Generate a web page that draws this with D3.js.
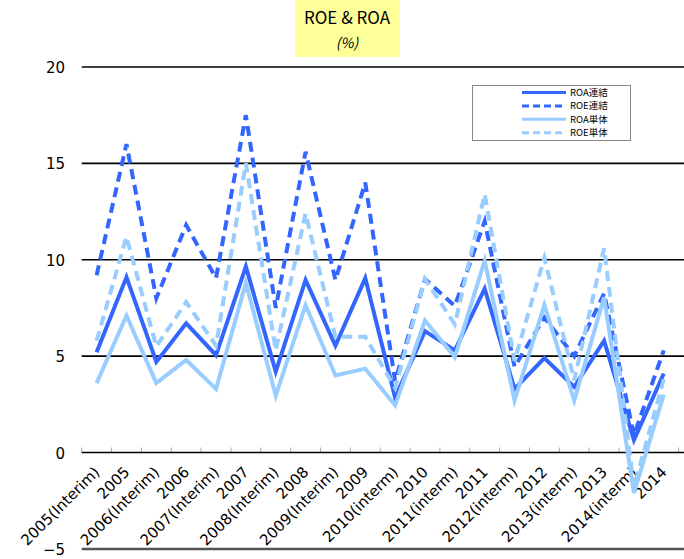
<!DOCTYPE html>
<html>
<head>
<meta charset="utf-8">
<script src="https://cdnjs.cloudflare.com/ajax/libs/d3/7.8.5/d3.min.js"></script>
<style>
  body { margin: 0; background: #fff; }
  text { font-family: "Noto Sans CJK JP", "Noto Sans", sans-serif; }
</style>
</head>
<body>
<script>
// ROE & ROA chart

var categories = ["2005(Interim)", "2005", "2006(Interim)", "2006", "2007(Interim)", "2007",
  "2008(Interim)", "2008", "2009(Interim)", "2009", "2010(interm)", "2010",
  "2011(interm)", "2011", "2012(interm)", "2012", "2013(interm)", "2013",
  "2014(interm)", "2014"];

var roaConsol = [5.2, 9.1, 4.7, 6.7, 5.05, 9.65, 4.2, 8.95, 5.55, 9.05, 2.85, 6.3,
  5.3, 8.5, 3.3, 4.9, 3.4, 5.8, 0.65, 4.1];
var roeConsol = [9.2, 16.0, 8.0, 11.8, 9.05, 17.5, 7.5, 15.6, 8.95, 14.0, 3.7, 9.0,
  7.6, 12.0, 4.45, 7.0, 5.0, 8.25, 0.9, 5.3];
var roaSingle = [3.6, 7.1, 3.6, 4.8, 3.3, 8.8, 2.95, 7.65, 4.0, 4.35, 2.45, 6.85,
  4.95, 9.95, 2.7, 7.65, 2.7, 8.05, -2.1, 3.0];
var roeSingle = [5.8, 11.2, 5.5, 7.8, 5.55, 15.0, 5.3, 12.4, 6.0, 6.0, 3.35, 9.0,
  6.65, 13.4, 4.75, 10.1, 3.75, 10.6, -1.8, 3.8];

var seriesNames = ["ROA連結", "ROE連結", "ROA単体", "ROE単体"];
var seriesValues = [roaConsol, roeConsol, roaSingle, roeSingle];
var seriesColors = ["#3366ff", "#3366ff", "#99ccff", "#99ccff"];
var seriesDash = [null, "10,6", null, "10,6"];

var yTicks = [-5, 0, 5, 10, 15, 20];

var width = 684, height = 559;
var svg = d3.select("body").append("svg")
  .attr("width", width)
  .attr("height", height);

var x = d3.scaleBand().domain(categories).range([81.7, 678.7]).padding(0);
var y = d3.scaleLinear().domain([-5, 20]).range([548.9, 67]);

// title box
svg.append("rect")
  .attr("x", 295).attr("y", 0)
  .attr("width", 105).attr("height", 57)
  .style("fill", "#ffff99");
svg.append("text")
  .attr("x", 347).attr("y", 24)
  .attr("text-anchor", "middle")
  .style("font-size", "17px")
  .text("ROE & ROA");
svg.append("text")
  .attr("x", 347).attr("y", 48)
  .attr("text-anchor", "middle")
  .style("font-size", "14px")
  .style("font-style", "italic")
  .text("(%)");

// grid lines
svg.selectAll("line.grid")
  .data(yTicks.filter(function(t) { return t > 0; }))
  .enter().append("line")
  .attr("class", "grid")
  .attr("x1", 81.7).attr("x2", width)
  .attr("y1", function(d) { return y(d); })
  .attr("y2", function(d) { return y(d); })
  .style("stroke", "#000")
  .style("stroke-width", 1.6);

// -5 line
svg.append("line")
  .attr("x1", 81.7).attr("x2", width)
  .attr("y1", y(-5)).attr("y2", y(-5))
  .style("stroke", "#555")
  .style("stroke-width", 2.5);

// y labels
svg.selectAll("text.ylab")
  .data(yTicks)
  .enter().append("text")
  .attr("class", "ylab")
  .attr("x", 65)
  .attr("y", function(d) { return y(d) + 6; })
  .attr("text-anchor", "end")
  .style("font-family", "DejaVu Sans")
  .style("font-size", "15px")
  .text(function(d) { return d < 0 ? "\u2212" + Math.abs(d) : d; });

// category ticks on the zero line
var bounds = categories.map(function(c) { return x(c); }).concat([x.range()[1]]);
svg.selectAll("line.ctick")
  .data(bounds)
  .enter().append("line")
  .attr("class", "ctick")
  .attr("x1", function(d) { return d; })
  .attr("x2", function(d) { return d; })
  .attr("y1", y(0) - 5).attr("y2", y(0))
  .style("stroke", "#aaa")
  .style("stroke-width", 1);

svg.append("line")
  .attr("x1", 81.7).attr("x2", width)
  .attr("y1", y(0)).attr("y2", y(0))
  .style("stroke", "#000")
  .style("stroke-width", 1.4);

// category labels
svg.selectAll("text.xlab")
  .data(categories)
  .enter().append("text")
  .attr("class", "xlab")
  .attr("text-anchor", "end")
  .attr("transform", function(d) {
    var cx = x(d) + x.bandwidth() / 2 + 4;
    return "translate(" + cx + "," + 473 + ") rotate(-45)";
  })
  .style("font-family", "DejaVu Sans")
  .style("font-size", "15px")
  .text(function(d) { return d; });

// series lines
var line = d3.line()
  .x(function(d, i) { return x(categories[i]) + x.bandwidth() / 2; })
  .y(function(d) { return y(d); });

seriesValues.forEach(function(vals, k) {
  svg.append("path")
    .datum(vals)
    .attr("d", line)
    .style("fill", "none")
    .style("stroke", seriesColors[k])
    .style("stroke-width", 4)
    .style("stroke-dasharray", seriesDash[k]);
});

// legend
var lg = svg.append("g");
lg.append("rect")
  .attr("x", 472.5).attr("y", 85.5)
  .attr("width", 158).attr("height", 55)
  .style("fill", "#fff")
  .style("stroke", "#888")
  .style("stroke-width", 1);

seriesNames.forEach(function(name, k) {
  var ly = 92.5 + k * 13.4;
  lg.append("line")
    .attr("x1", 522).attr("x2", 566)
    .attr("y1", ly).attr("y2", ly)
    .style("stroke", seriesColors[k])
    .style("stroke-width", 3)
    .style("stroke-dasharray", seriesDash[k] ? "7,4" : null);
  lg.append("text")
    .attr("x", 570).attr("y", ly + 3.5)
    .style("font-size", "9.5px")
    .text(name);
});
</script>
</body>
</html>
